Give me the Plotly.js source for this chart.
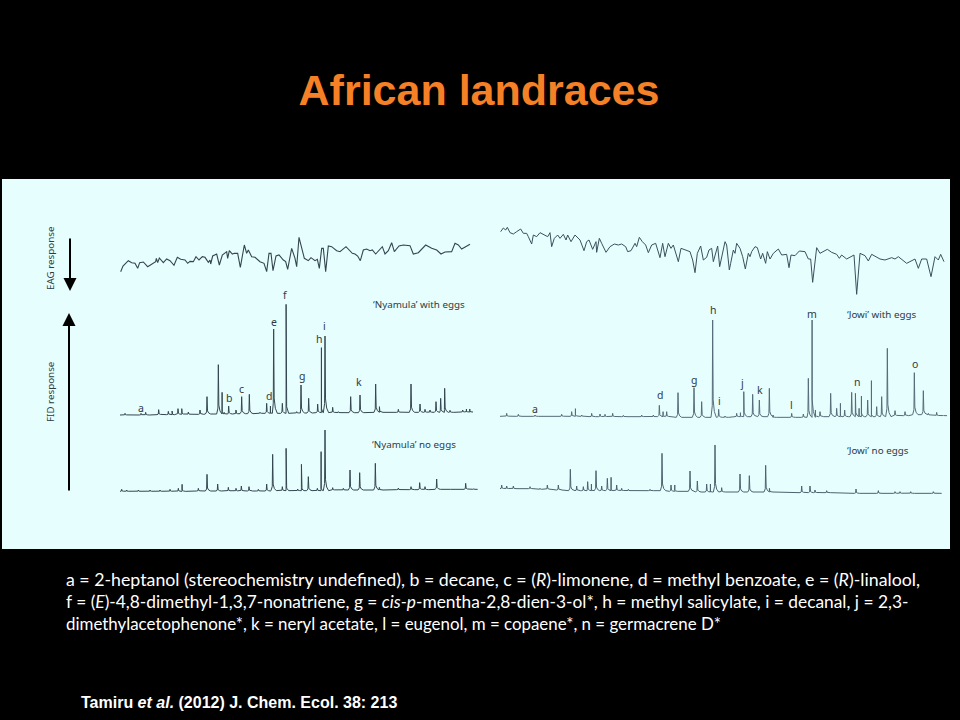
<!DOCTYPE html>
<html><head><meta charset="utf-8">
<script src="https://cdn.plot.ly/plotly-3.0.1.min.js"></script>
<style>html,body{margin:0;padding:0;background:#000}#c{width:960px;height:720px}</style></head>
<body><div id="c"></div>
<script>
// Values. Retention = arbitrary time reading, signal = detector reading (smaller = further up the page)
var eagNyamulaT=[362,369,385,395,405,413,419,430,443,460,467,469,473,478,490,500,510,522,532,542,555,563,570,580,588,597,607,615,625,630,632,638,650,658,667,680,683,688,697,703,713,721,733,740,745,755,765,780,792,800,807,813,819,828,837,850,857,863,875,885,890,897,905,913,925,933,945,952,958,965,970,977,985,995,1010,1020,1038,1050,1057,1065,1073,1081,1090,1100,1110,1117,1127,1147,1155,1165,1175,1183,1197,1210,1230,1240,1255,1277,1295,1310,1323,1335,1355,1365,1375,1385,1400,1410];
var eagNyamulaS=[275,258,242,248,250,265,248,246,260,250,245,235,248,234,248,237,242,256,232,238,240,250,244,245,230,240,230,232,247,240,252,228,222,255,225,215,235,212,222,220,220,262,195,220,210,230,232,245,250,275,220,220,272,228,225,240,245,268,205,235,260,172,200,235,242,233,242,238,265,205,205,275,198,200,212,215,200,212,220,222,228,242,210,207,212,210,222,200,222,212,188,215,198,195,197,222,218,195,205,210,222,216,215,190,195,207,200,193];
var eagJowiT=[32,40,47,52,60,70,80,92,100,110,115,125,130,140,150,165,173,180,185,193,203,210,220,228,233,243,255,270,282,290,297,308,318,320,328,335,348,360,373,385,395,407,413,423,435,440,448,457,467,475,485,497,510,518,525,535,543,550,565,573,590,600,608,615,622,632,640,650,657,665,670,683,689,697,703,705,710,718,722,730,735,740,750,758,766,775,780,785,795,802,812,818,827,832,840,850,865,875,890,897,903,915,928,945,955,962,968,980,990,1000,1012,1025,1040,1048,1055,1070,1092,1100,1110,1125,1135,1145,1160,1170,1185,1205,1215,1225,1250,1275,1285,1295,1310,1323,1335,1345,1352,1362];
var eagJowiS=[155,144,150,142,158,162,155,147,160,160,170,192,165,170,158,165,170,158,200,175,165,175,163,180,165,185,165,180,212,185,180,208,185,217,175,190,217,200,192,195,192,200,215,212,190,200,172,185,195,218,195,190,233,190,230,190,205,195,245,205,210,215,240,278,220,198,240,232,210,205,245,198,260,220,190,185,195,270,250,210,220,190,205,230,267,220,230,215,200,203,237,220,250,215,237,220,207,225,223,263,225,227,213,215,237,237,307,203,220,215,208,217,223,235,225,237,225,343,220,227,243,223,230,237,240,233,237,230,250,237,265,237,237,290,230,240,223,245];

var nyWithT=[375,423,437,476,505,513,534,545,565,600,621,655,661,672,686,708,725,748,780,800,806,821,847,855,890,903,926,953,958,975,998,1015,1052,1080,1127,1138,1195,1233,1260,1275,1290,1308,1322,1334,1350,1388,1398,1408];
var nyWithTop=[160,160,157,149,154,153,146,146,156,150,110,14,97,157,138,150,110,103,157,130,138,-93,130,-167,155,75,115,132,-37,-72,142,155,110,105,72,140,148,72,132,148,150,125,115,85,151,150,147,147];
var nyWithFloor=[165,165,165,164,164,164,163,163,163,163,162,162,162,162,162,162,161,161,160,160,160,160,160,160,159,159,159,158,158,158,158,158,158,158,157,157,157,157,157,157,157,157,157,157,157,156,156,156];

var nyNoneT=[365,380,415,450,480,510,535,545,595,621,653,685,708,724,747,775,800,818,847,855,893,901,925,952,957,975,998,1030,1050,1079,1126,1138,1195,1233,1259,1275,1310,1340,1397,1420];
var nyNoneTop=[388,390,390,390,390,388,385,373,385,343,372,382,385,378,380,388,372,283,380,265,387,313,350,385,275,210,383,385,330,338,310,382,384,380,368,380,357,387,370,387];
var nyNoneFloor=[394,394,394,394,394,394,394,394,393,393,393,393,393,393,393,393,393,392,392,392,392,392,392,392,392,392,390,390,390,390,390,390,389,389,389,389,388,388,388,388];

var jwWithT=[50,85,135,215,245,254,275,305,330,345,368,400,455,490,508,516,530,564,612,635,668,686,705,740,750,761,788,808,838,848,905,940,955,965,975,990,1022,1040,1045,1064,1085,1096,1103,1112,1133,1138,1160,1175,1192,1215,1245,1273,1300,1315,1340,1360];
var jwWithTop=[160,163,165,163,155,146,165,160,162,163,160,166,165,165,136,155,155,98,83,125,-120,148,168,160,158,95,103,120,85,165,160,162,55,-120,150,155,100,145,130,150,97,100,145,108,120,62,140,110,-35,152,155,38,92,160,157,165];
var jwWithFloor=[169,169,169,169,169,169,169,170,170,170,170,170,170,170,170,170,170,172,172,172,172,172,172,170,170,170,170,170,170,172,172,172,172,172,170,170,170,170,170,170,170,170,170,170,170,170,170,170,170,167,167,164,164,165,167,167];

var jwNoneT=[35,50,70,120,150,172,205,241,260,280,293,300,318,335,352,358,380,395,415,480,516,543,552,600,622,650,656,675,695,750,778,827,838,935,960,975,1010,1098,1165,1215,1230,1262,1330];
var jwNoneTop=[375,378,378,380,385,375,375,328,378,380,365,372,332,378,355,352,375,385,388,388,280,375,375,333,363,372,372,255,383,342,347,316,385,378,378,390,392,387,392,395,395,395,395];
var jwNoneFloor=[386,386,386,386,388,388,390,392,392,392,392,392,392,392,392,392,392,392,392,392,392,394,394,394,396,396,396,396,396,396,396,396,396,398,398,398,398,400,400,400,400,400,400];

var nyLetters=['a','b','c','d','e','f','g','h','i','k'];
var jwLetters=['a','d','g','h','i','j','k','l','m','n','o'];
var titleText='African landraces';
var legendLines=[
 'a = 2-heptanol (stereochemistry undefined), b = decane, c = (<i>R</i>)-limonene, d = methyl benzoate, e = (<i>R</i>)-linalool,',
 'f = (<i>E</i>)-4,8-dimethyl-1,3,7-nonatriene, g = <i>cis-p</i>-mentha-2,8-dien-3-ol*, h = methyl salicylate, i = decanal, j = 2,3-',
 'dimethylacetophenone*, k = neryl acetate, l = eugenol, m = copaene*, n = germacrene D*'];
var citation='<b>Tamiru <i>et al.</i> (2012) J. Chem. Ecol. 38: 213</b>';

var ink='#34464f';
function px(x){return x/960;} function py(y){return 1-y/720;}
function peaks(t,top,floor,start,end){
  var xs=[start],ys=[floor[0]],last=start;
  function add(x,y){ if(x<=last) x=last+0.1; xs.push(x);ys.push(y);last=x; }
  for(var i=0;i<t.length;i++){
    var h=floor[i]-top[i];
    add(t[i]-5,floor[i]);
    add(t[i]-1.2,floor[i]-h*0.12);
    add(t[i],top[i]);
    add(t[i]+1.5,floor[i]-h*0.18);
    add(t[i]+5,floor[i]-h*0.06);
    add(t[i]+11,floor[i]);
  }
  add(end,floor[floor.length-1]);
  return {x:xs,y:ys};
}
function line(d,xa,ya,c,w){return {type:'scatter',mode:'lines',x:d.x,y:d.y,xaxis:xa,yaxis:ya,hoverinfo:'skip',showlegend:false,line:{color:c||ink,width:w||1,shape:'linear'}};}
var traces=[
 line({x:eagNyamulaT,y:eagNyamulaS},'x','y',ink,1.1),
 line(peaks(nyWithT,nyWithTop,nyWithFloor,360,1415),'x','y2'),
 line(peaks(nyNoneT,nyNoneTop,nyNoneFloor,360,1433),'x','y2'),
 line({x:eagJowiT,y:eagJowiS},'x2','y','#3c505c',1),
 line(peaks(jwWithT,jwWithTop,jwWithFloor,30,1362),'x2','y2','#566c79'),
 line(peaks(jwNoneT,jwNoneTop,jwNoneFloor,30,1355),'x2','y2','#4d626e')
];
function note(text,x,y,o){
  var a={text:text,xref:'paper',yref:'paper',x:px(x),y:py(y),showarrow:false,xanchor:'center',yanchor:'middle',
    font:{family:'"Noto Sans",sans-serif',size:10.5,color:'#2d3b44'}};
  for(var k in o){a[k]=o[k];}
  return a;
}
var labelFont={family:'"Noto Sans",sans-serif',size:9.8,color:'#2d3b44'};
var nyPos=[[141,408],[229,398],[241,389],[269,396],[274,322],[285,295],[302,376],[319,339],[324,326],[359,382]];
var jwPos=[[535,409],[660,395],[694,380],[713,310],[719,401],[742,383],[760,390],[791,405],[812,314],[857,382],[915,364]];
var ann=[];
nyLetters.forEach(function(l,i){ann.push(note(l,nyPos[i][0],nyPos[i][1]));});
jwLetters.forEach(function(l,i){ann.push(note(l,jwPos[i][0],jwPos[i][1]));});
ann.push(note('‘Nyamula’ with eggs',371,304,{xanchor:'left',font:labelFont}));
ann.push(note('‘Nyamula’ no eggs',370,444,{xanchor:'left',font:labelFont}));
ann.push(note('‘Jowi’ with eggs',845,314,{xanchor:'left',font:labelFont}));
ann.push(note('‘Jowi’ no eggs',845,450,{xanchor:'left',font:labelFont}));
ann.push(note('EAG response',50,258,{textangle:-90,font:labelFont}));
ann.push(note('FID response',51,392,{textangle:-90,font:labelFont}));
ann.push({text:'',xref:'paper',yref:'paper',x:px(70),y:py(291),ax:0,ay:-54,showarrow:true,arrowhead:2,arrowsize:1.3,arrowwidth:2,arrowcolor:'#000'});
ann.push({text:'',xref:'paper',yref:'paper',x:px(69),y:py(313),ax:0,ay:179,showarrow:true,arrowhead:2,arrowsize:1.3,arrowwidth:2,arrowcolor:'#000'});
var lineY=[579,601,623];
var lineSize=[17.75,17.35,16.9];
legendLines.forEach(function(s,i){ann.push(note(s,64,lineY[i],{xanchor:'left',font:{family:'Lato,sans-serif',size:lineSize[i],color:'#fff'}}));});
ann.push(note(citation,79,702,{xanchor:'left',font:{family:'"Liberation Sans",Arial,sans-serif',size:16,color:'#fff'}}));

function ax(o){var a={visible:false,fixedrange:true};for(var k in o){a[k]=o[k];}return a;}
var layout={
  width:960,height:720,margin:{l:0,r:0,t:0,b:0},paper_bgcolor:'#000',plot_bgcolor:'rgba(0,0,0,0)',showlegend:false,
  title:{text:'<b>'+titleText+'</b>',x:479/960,xanchor:'center',y:py(90),yanchor:'middle',font:{family:'"Liberation Sans",Arial,sans-serif',size:43,color:'#F58025'}},
  xaxis:ax({domain:[0,490/960],range:[0,1470],anchor:'y'}),
  xaxis2:ax({domain:[490/960,1],range:[0,1410],anchor:'y'}),
  yaxis:ax({domain:[py(370),py(180)],range:[570,0],anchor:'x'}),
  yaxis2:ax({domain:[py(550),py(280)],range:[570,-240],anchor:'x'}),
  shapes:[{type:'rect',xref:'paper',yref:'paper',x0:px(2),x1:px(950),y0:py(549),y1:py(179),fillcolor:'#E7FEFE',line:{width:0},layer:'below'}],
  annotations:ann
};
Plotly.newPlot('c',traces,layout,{displayModeBar:false,staticPlot:true});
</script></body></html>
